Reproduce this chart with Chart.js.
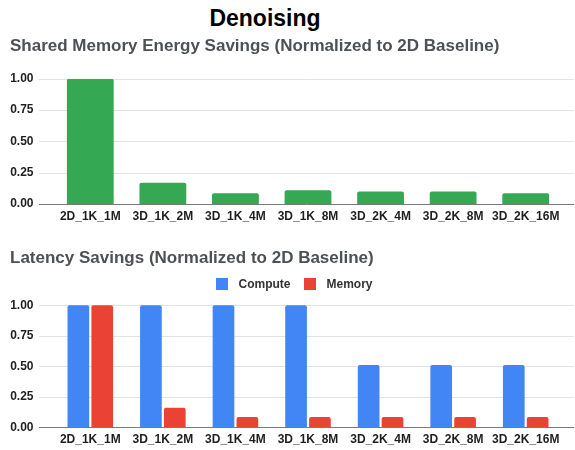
<!DOCTYPE html>
<html>
<head>
<meta charset="utf-8">
<script src="https://cdn.jsdelivr.net/npm/chart.js@4"></script>
<style>
  html, body { margin: 0; padding: 0; background: #fff; }
  #wrap { position: relative; width: 575px; height: 450px; overflow: hidden;
          font-family: "Liberation Sans", Arial, sans-serif; }
  #main { position: absolute; left: 0; top: 7px; width: 530px; text-align: center;
          font-weight: bold; font-size: 23px; line-height: 23px; color: #000; }
  #c1 { position: absolute; left: 0; top: 34px; }
  #c2 { position: absolute; left: 0; top: 226px; }
</style>
</head>
<body>
<div id="wrap">
  <div id="main">Denoising</div>
  <canvas id="c1" width="575" height="200"></canvas>
  <canvas id="c2" width="575" height="232"></canvas>
</div>
<script>
// Configurations on the x axis
const categories = ['2D_1K_1M', '3D_1K_2M', '3D_1K_4M', '3D_1K_8M', '3D_2K_4M', '3D_2K_8M', '3D_2K_16M'];

// Shared memory energy savings, normalized to the 2D baseline
const energySavings = [1.00, 0.17, 0.085, 0.11, 0.10, 0.10, 0.085];

// Latency savings, normalized to the 2D baseline
const computeLatency = [1.00, 1.00, 1.00, 1.00, 0.51, 0.51, 0.51];
const memoryLatency  = [1.00, 0.16, 0.085, 0.085, 0.085, 0.085, 0.085];

// Value axis ticks
const yTicks = [0, 0.25, 0.50, 0.75, 1.00];

const FONT = "'Liberation Sans', Arial, sans-serif";
Chart.defaults.font.family = FONT;

// Horizontal gridlines that run past the plot area, as in spreadsheet charts
const fullGrid = {
  id: 'fullGrid',
  beforeDatasetsDraw(chart) {
    const y = chart.scales.y, ctx = chart.ctx;
    const x0 = chart.chartArea.left - 15, x1 = chart.width - 1;
    ctx.save();
    ctx.lineWidth = 1;
    ctx.strokeStyle = '#e3e3e3';
    y.ticks.forEach(t => {
      if (t.value === 0) return;
      const py = Math.round(y.getPixelForValue(t.value)) + 0.5;
      ctx.beginPath(); ctx.moveTo(x0, py); ctx.lineTo(x1, py); ctx.stroke();
    });
    ctx.restore();
  },
  afterDatasetsDraw(chart) {
    const y = chart.scales.y, ctx = chart.ctx;
    const x0 = chart.chartArea.left - 15, x1 = chart.width - 1;
    const py = Math.round(y.getPixelForValue(0)) + 0.5;
    ctx.save();
    ctx.lineWidth = 1;
    ctx.strokeStyle = '#7a7a7a';
    ctx.beginPath(); ctx.moveTo(x0, py); ctx.lineTo(x1, py); ctx.stroke();
    ctx.restore();
  }
};

// Small square legend marker
function swatch(color) {
  const c = document.createElement('canvas');
  c.width = 12; c.height = 12;
  const g = c.getContext('2d');
  g.fillStyle = color;
  g.fillRect(0, 0, 12, 12);
  return c;
}

function scales(xHeight, yMax) {
  return {
    x: {
      grid: { display: false, drawTicks: false },
      border: { display: false },
      ticks: { color: '#1f1f1f', font: { size: 12, weight: 'bold' }, padding: 5, maxRotation: 0, autoSkip: false },
      afterFit(s) { s.height = xHeight; }
    },
    y: {
      min: 0, max: yMax,
      afterBuildTicks(s) { s.ticks = yTicks.map(v => ({ value: v })); },
      grid: { display: false, drawTicks: false },
      border: { display: false },
      ticks: { color: '#1f1f1f', font: { size: 12, weight: 'bold' }, padding: 20.5,
               callback: v => Number(v).toFixed(2) },
      afterFit(s) { s.width = 44; }
    },
    // empty right-hand margin column
    yRight: {
      position: 'right',
      display: true,
      grid: { display: false, drawTicks: false },
      border: { display: false },
      ticks: { display: false },
      afterFit(s) { s.width = 13; }
    }
  };
}

new Chart(document.getElementById('c1'), {
  type: 'bar',
  data: {
    labels: categories,
    datasets: [{
      label: 'Energy Savings',
      data: energySavings,
      backgroundColor: '#34a853',
      borderRadius: 2,
      categoryPercentage: 0.658,
      barPercentage: 0.98
    }]
  },
  options: {
    responsive: false,
    animation: false,
    events: [],
    devicePixelRatio: 1,
    layout: { padding: { left: 10, right: 0, top: 0, bottom: 0 } },
    plugins: {
      legend: { display: false },
      tooltip: { enabled: false },
      title: {
        display: true,
        text: 'Shared Memory Energy Savings (Normalized to 2D Baseline)',
        align: 'start',
        color: '#4d5055',
        font: { size: 17, weight: 'bold' },
        padding: { top: 2, bottom: 22.3 }
      }
    },
    scales: scales(30, 1)
  },
  plugins: [fullGrid]
});

new Chart(document.getElementById('c2'), {
  type: 'bar',
  data: {
    labels: categories,
    datasets: [
      { label: 'Compute', data: computeLatency, backgroundColor: '#4285f4',
        pointStyle: swatch('#4285f4'),
        borderRadius: 2, categoryPercentage: 0.658, barPercentage: 0.908 },
      { label: 'Memory', data: memoryLatency, backgroundColor: '#ea4335',
        pointStyle: swatch('#ea4335'),
        borderRadius: 2, categoryPercentage: 0.658, barPercentage: 0.908 }
    ]
  },
  options: {
    responsive: false,
    animation: false,
    events: [],
    devicePixelRatio: 1,
    layout: { padding: { left: 10, right: 0, top: 0, bottom: 0 } },
    plugins: {
      tooltip: { enabled: false },
      title: {
        display: true,
        text: 'Latency Savings (Normalized to 2D Baseline)',
        align: 'start',
        color: '#4d5055',
        font: { size: 17, weight: 'bold' },
        padding: { top: 22, bottom: 0 }
      },
      legend: {
        display: true,
        position: 'top',
        labels: {
          usePointStyle: true,
          pointStyleWidth: 20,
          boxHeight: 12,
          padding: 10,
          color: '#333', font: { size: 12, weight: 'bold' }
        }
      }
    },
    scales: scales(30.7, 1.04)
  },
  plugins: [fullGrid]
});
</script>
</body>
</html>
